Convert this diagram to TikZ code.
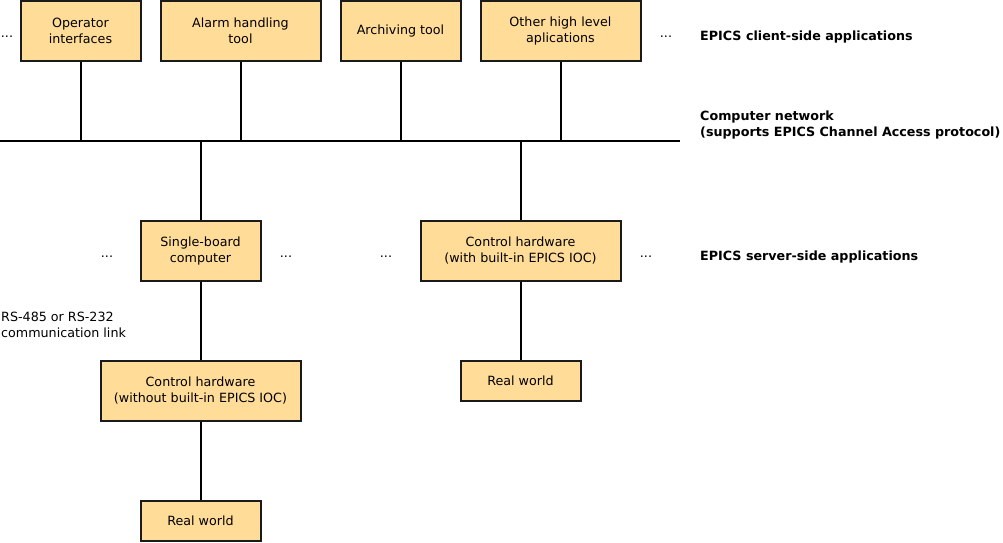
\documentclass[tikz,border=0pt]{standalone}
\usepackage{fontspec}
\setmainfont{DejaVu Sans}
\definecolor{boxfill}{HTML}{FFDD99}
\definecolor{edge}{HTML}{1A1A1A}
\begin{document}
\begin{tikzpicture}[x=1pt,y=-1pt,
  box/.style={draw=edge, fill=boxfill, line width=2pt, inner sep=0pt, align=center,
    font=\fontsize{12.7}{16}\selectfont},
  txt/.style={inner sep=0pt, align=left, anchor=west, font=\fontsize{12.7}{16}\selectfont},
  btxt/.style={inner sep=0pt, align=left, anchor=west, font=\fontsize{12.7}{16}\selectfont\bfseries},
  dots/.style={inner sep=0pt, font=\fontsize{12.7}{16}\selectfont},
  conn/.style={draw=black, line width=2pt}]
\useasboundingbox (0,0) rectangle (1003,542);
% client boxes
\node[box, minimum width=120pt, minimum height=60pt] (op) at (80.5,31) {Operator\\interfaces};
\node[box, minimum width=160pt, minimum height=60pt] (alarm) at (240.5,31) {Alarm handling\\tool};
\node[box, minimum width=120pt, minimum height=60pt] (arch) at (400.5,31) {Archiving tool};
\node[box, minimum width=160pt, minimum height=60pt] (other) at (560.5,31) {Other high level\\aplications};
% network
\coordinate (netL) at (0,140.5);
\coordinate (netR) at (680,140.5);
\draw[conn] (netL) -- (netR);
\coordinate (n1) at (80.5,140.5);
\coordinate (n2) at (240.5,140.5);
\coordinate (n3) at (400.5,140.5);
\coordinate (n4) at (560.5,140.5);
\coordinate (n5) at (200.5,140.5);
\coordinate (n6) at (520.5,140.5);
% server boxes
\node[box, minimum width=120pt, minimum height=60pt] (sbc) at (200.5,250.5) {Single-board\\computer};
\node[box, minimum width=200pt, minimum height=60pt] (chw) at (520.5,250.5) {Control hardware\\(with built-in EPICS IOC)};
\node[box, minimum width=200pt, minimum height=60pt] (chwo) at (200.5,390.5) {Control hardware\\(without built-in EPICS IOC)};
\node[box, minimum width=120pt, minimum height=40pt] (rw2) at (520.5,380.5) {Real world};
\node[box, minimum width=120pt, minimum height=40pt] (rw1) at (200.5,520.5) {Real world};
% connectors
\draw[conn] (op.south) -- (n1);
\draw[conn] (alarm.south) -- (n2);
\draw[conn] (arch.south) -- (n3);
\draw[conn] (other.south) -- (n4);
\draw[conn] (n5) -- (sbc.north);
\draw[conn] (n6) -- (chw.north);
\draw[conn] (sbc.south) -- (chwo.north);
\draw[conn] (chwo.south) -- (rw1.north);
\draw[conn] (chw.south) -- (rw2.north);
% dots
\node[dots] (d1) at (7,37) {...};
\node[dots] (d2) at (666,37) {...};
\node[dots] (d3) at (107,257) {...};
\node[dots] (d4) at (286,257) {...};
\node[dots] (d5) at (386,257) {...};
\node[dots] (d6) at (646,257) {...};
% labels
\node[btxt] (l1) at (700,37) {EPICS client-side applications};
\node[btxt] (l2) at (700,124.5) {Computer network\\(supports EPICS Channel Access protocol)};
\node[btxt] (l3) at (700,257) {EPICS server-side applications};
\node[txt] (l4) at (1,324.5) {RS-485 or RS-232\\communication link};
\end{tikzpicture}
\end{document}
